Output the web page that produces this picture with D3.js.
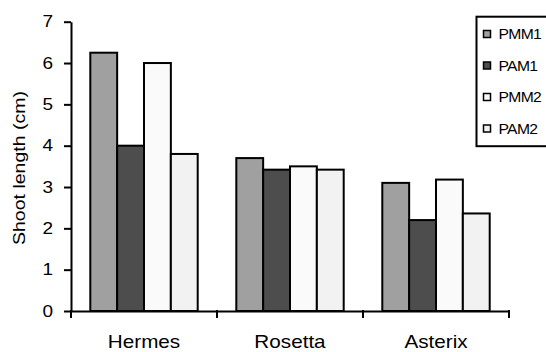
<!DOCTYPE html>
<html>
<head>
<meta charset="utf-8">
<script src="https://cdn.jsdelivr.net/npm/d3@7"></script>
<style>
  html, body { margin: 0; padding: 0; background: #fff; }
  svg { display: block; font-family: "Liberation Sans", Arial, sans-serif; }
</style>
</head>
<body>
<svg id="chart" width="546" height="352"></svg>
<script>
const categories = ["Hermes", "Rosetta", "Asterix"];
const seriesNames = ["PMM1", "PAM1", "PMM2", "PAM2"];
const PMM1 = [6.25, 3.7, 3.1];
const PAM1 = [4.0, 3.42, 2.2];
const PMM2 = [6.0, 3.5, 3.18];
const PAM2 = [3.8, 3.42, 2.36];
const yTicks = [0, 1, 2, 3, 4, 5, 6, 7];
const colors = ["#a0a0a0", "#4d4d4d", "#fafafa", "#f2f2f2"];
const yLabel = "Shoot length (cm)";

(function () {
const seriesValues = [PMM1, PAM1, PMM2, PAM2];
const data = categories.map((c, i) => ({
  category: c,
  values: seriesNames.map((s, j) => ({ series: s, value: seriesValues[j][i] }))
}));

const svg = d3.select("#chart");
const mLeft = 71, mRight = 509, mTop = 21.7, mBottom = 311;
const sx = 1.15;

const x0 = d3.scaleBand().domain(categories).range([mLeft, mRight]).paddingInner(0).paddingOuter(0);
const groupPad = 19.3;
const x1 = d3.scaleBand().domain(seriesNames).range([groupPad, x0.bandwidth() - groupPad]).padding(0);
const y = d3.scaleLinear().domain([0, 7]).range([mBottom, mTop]);
const color = d3.scaleOrdinal().domain(seriesNames).range(colors);

// bars
const groups = svg.append("g").selectAll("g").data(data).join("g")
  .attr("transform", d => `translate(${x0(d.category)},0)`);
groups.selectAll("rect").data(d => d.values).join("rect")
  .attr("x", d => x1(d.series))
  .attr("y", d => y(d.value))
  .attr("width", x1.bandwidth())
  .attr("height", d => y(0) - y(d.value))
  .attr("fill", d => color(d.series))
  .attr("stroke", "#000")
  .attr("stroke-width", 2);

// y axis
const yAxis = svg.append("g").attr("transform", `translate(${mLeft},0)`)
  .call(d3.axisLeft(y).tickValues(yTicks).tickFormat(d3.format("d")).tickSize(7).tickSizeOuter(0));
yAxis.select(".domain").attr("stroke-width", 2);
yAxis.selectAll(".tick line").attr("stroke-width", 2);
yAxis.selectAll("text")
  .attr("x", 0)
  .attr("transform", "translate(-18,0) scale(" + sx + ",1)")
  .attr("font-size", 16.5)
  .attr("font-family", "Liberation Sans, Arial, sans-serif")
  .attr("fill", "#000");

// x axis: labels at band centres, ticks at band boundaries
const xAxis = svg.append("g").attr("transform", `translate(0,${mBottom})`)
  .call(d3.axisBottom(x0).tickSize(0).tickSizeOuter(0));
xAxis.select(".domain").attr("stroke-width", 2);
xAxis.selectAll("text")
  .attr("y", 0).attr("dy", null)
  .attr("font-size", 18)
  .attr("font-family", "Liberation Sans, Arial, sans-serif")
  .attr("fill", "#000")
  .attr("transform", "translate(0,37) scale(" + sx + ",1)");
const boundaries = categories.map(c => x0(c)).concat([x0(categories[categories.length - 1]) + x0.bandwidth()]);
xAxis.selectAll(".bnd").data(boundaries).join("line").attr("class", "bnd")
  .attr("x1", d => d).attr("x2", d => d)
  .attr("y1", -1).attr("y2", 7)
  .attr("stroke", "#000").attr("stroke-width", 2);

// y label
svg.append("text")
  .attr("transform", "translate(24.5,168) rotate(-90) scale(" + sx + ",1)")
  .attr("text-anchor", "middle")
  .attr("font-size", 17)
  .attr("fill", "#000")
  .text(yLabel);

// legend
const lg = svg.append("g");
lg.append("rect")
  .attr("x", 476.5).attr("y", 16.7).attr("width", 100).attr("height", 129.5)
  .attr("fill", "#fff").attr("stroke", "#000").attr("stroke-width", 2);
const rowY = d3.scalePoint().domain(seriesNames).range([34, 128.5]);
const items = lg.selectAll(".item").data(seriesNames).join("g").attr("class", "item")
  .attr("transform", d => `translate(0,${rowY(d)})`);
items.append("rect")
  .attr("x", 483.5).attr("y", -3.5).attr("width", 7).attr("height", 7)
  .attr("fill", d => color(d)).attr("stroke", "#000").attr("stroke-width", 1.5);
items.append("text")
  .attr("transform", "translate(498.5,0) scale(1.12,1)")
  .attr("dy", "0.36em")
  .attr("font-size", 14)
  .attr("letter-spacing", -0.6)
  .attr("fill", "#000")
  .text(d => d);
})();
</script>
</body>
</html>
